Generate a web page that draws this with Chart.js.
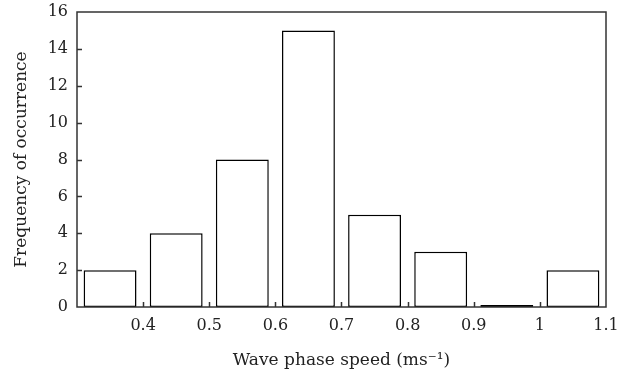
<!DOCTYPE html>
<html>
<head>
<meta charset="utf-8">
<script src="https://cdn.jsdelivr.net/npm/chart.js@4/dist/chart.umd.min.js"></script>
<style>
html,body{margin:0;padding:0;background:#fff;}
#wrap{width:629px;height:377px;}
</style>
</head>
<body>
<div id="wrap"><canvas id="c" width="629" height="377"></canvas></div>
<script>
// bin centres (wave phase speed, m/s) and frequencies
const binCentres = [0.35, 0.45, 0.55, 0.65, 0.75, 0.85, 0.95, 1.05];
const frequencies = [2, 4, 8, 15, 5, 3, 0, 2];
const xTicks = [0.4, 0.5, 0.6, 0.7, 0.8, 0.9, 1.0, 1.1];
const yTicks = [0, 2, 4, 6, 8, 10, 12, 14, 16];

const FONT = "'DejaVu Serif', serif";

const frame = {
  id: 'frame',
  afterDraw(chart) {
    const {ctx, chartArea: a, scales} = chart;
    ctx.save();
    ctx.strokeStyle = '#333';
    ctx.lineWidth = 1.5;
    ctx.beginPath();
    xTicks.forEach(v => {
      if (v >= 1.1) return;
      const px = Math.round(scales.x.getPixelForValue(v)) + 0.5;
      ctx.moveTo(px, a.bottom);
      ctx.lineTo(px, a.bottom - 5);
    });
    yTicks.forEach(v => {
      if (v <= 0 || v >= 16) return;
      const py = Math.round(scales.y.getPixelForValue(v)) + 0.5;
      ctx.moveTo(a.left, py);
      ctx.lineTo(a.left + 5, py);
    });
    ctx.stroke();
    ctx.strokeRect(a.left, a.top, a.right - a.left, a.bottom - a.top);
    ctx.restore();
  }
};

new Chart(document.getElementById('c'), {
  type: 'bar',
  data: {
    datasets: [{
      data: binCentres.map((x, i) => ({x: x, y: frequencies[i]})),
      backgroundColor: '#ffffff',
      borderColor: '#000000',
      borderWidth: 1.5,
      borderSkipped: false,
      minBarLength: 2,
      barPercentage: 0.8,
      categoryPercentage: 1.0
    }]
  },
  options: {
    responsive: false,
    animation: false,
    devicePixelRatio: 1,
    layout: {padding: {left: 0, right: 23, top: 12, bottom: 0}},
    plugins: {legend: {display: false}, tooltip: {enabled: false}},
    scales: {
      x: {
        type: 'linear',
        min: 0.3, max: 1.1,
        offset: false,
        afterBuildTicks(scale) { scale.ticks = xTicks.map(v => ({value: v})); },
        afterFit(scale) { scale.height = 70; },
        grid: {display: false, drawTicks: false},
        border: {display: false},
        ticks: {
          padding: 9,
          color: '#222',
          font: {family: FONT, size: 16},
          callback: v => String(+v.toFixed(1))
        },
        title: {
          display: true,
          text: 'Wave phase speed (ms\u207B\u00B9)',
          color: '#222',
          font: {family: FONT, size: 17},
          padding: {top: 8, bottom: 6}
        }
      },
      y: {
        min: 0, max: 16,
        afterBuildTicks(scale) { scale.ticks = yTicks.map(v => ({value: v})); },
        afterFit(scale) { scale.width = 77; scale.paddingTop = 0; scale.paddingBottom = 0; },
        grid: {display: false, drawTicks: false},
        border: {display: false},
        ticks: {
          padding: 9,
          color: '#222',
          font: {family: FONT, size: 16}
        },
        title: {
          display: true,
          text: 'Frequency of occurrence',
          color: '#222',
          font: {family: FONT, size: 17},
          padding: {top: 11, bottom: 0}
        }
      }
    }
  },
  plugins: [frame]
});
</script>
</body>
</html>
